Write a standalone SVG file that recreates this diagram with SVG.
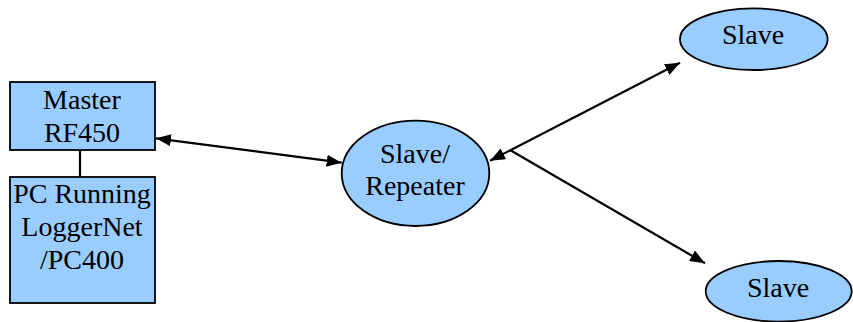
<svg xmlns="http://www.w3.org/2000/svg" width="853" height="322" viewBox="0 0 853 322">
<style>
.node{fill:#99CCFF;stroke:#000;stroke-width:1.8}
.lbl{font-family:"Liberation Serif","Times New Roman",serif;font-size:28px;fill:#000;text-anchor:middle}
.edge{stroke:#000;stroke-width:2.2;fill:none}
</style>
<defs>
<marker id="ah" markerUnits="userSpaceOnUse" markerWidth="16" markerHeight="12" refX="15" refY="6" orient="auto-start-reverse" viewBox="0 0 16 12">
<path d="M0,0 L15,6 L0,12 z" fill="#000"/>
</marker>
</defs>
<rect width="853" height="322" fill="#fff"/>
<g id="connectors">
<line class="edge" x1="80" y1="150" x2="80" y2="177"/>
<line class="edge" x1="156" y1="138.3" x2="341.7" y2="162.7" marker-start="url(#ah)" marker-end="url(#ah)"/>
<line class="edge" x1="490" y1="160.7" x2="680" y2="62.7" marker-start="url(#ah)" marker-end="url(#ah)"/>
<line class="edge" x1="510" y1="150" x2="705" y2="263.3" marker-end="url(#ah)"/>
</g>
<g id="master">
<rect class="node" x="10" y="82" width="145" height="68"/>
<text class="lbl" x="82" y="109">Master</text>
<text class="lbl" x="82" y="142">RF450</text>
</g>
<g id="pc">
<rect class="node" x="10" y="177" width="145" height="126"/>
<text class="lbl" x="82" y="203">PC Running</text>
<text class="lbl" x="82" y="236">LoggerNet</text>
<text class="lbl" x="82" y="269">/PC400</text>
</g>
<g id="repeater">
<ellipse class="node" cx="415.5" cy="173.3" rx="73.8" ry="52.7"/>
<text class="lbl" x="415" y="163">Slave/</text>
<text class="lbl" x="415" y="195">Repeater</text>
</g>
<g id="slave1">
<ellipse class="node" cx="753.8" cy="39.2" rx="73.8" ry="30.8"/>
<text class="lbl" x="753" y="44">Slave</text>
</g>
<g id="slave2">
<ellipse class="node" cx="778.7" cy="291.3" rx="73" ry="30.3"/>
<text class="lbl" x="778" y="297">Slave</text>
</g>
</svg>
